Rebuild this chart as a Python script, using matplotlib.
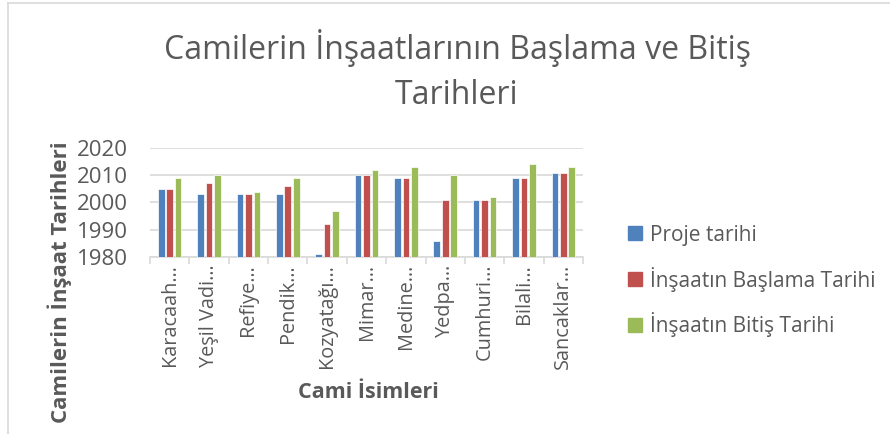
import numpy as np
import matplotlib
matplotlib.use("Agg")
import matplotlib.pyplot as plt
from matplotlib.lines import Line2D

plt.rcParams['font.family'] = ['Open Sans', 'DejaVu Sans']

# cami isimleri (kisaltilmis) ve tarihler
camiler = ["Karacaah…", "Yeşil Vadi…", "Refiye…", "Pendik…", "Kozyatağı…",
           "Mimar…", "Medine…", "Yedpa…", "Cumhuri…", "Bilali…", "Sancaklar…"]
proje_tarihi = [2005, 2003, 2003, 2003, 1981, 2010, 2009, 1986, 2001, 2009, 2011]
baslama_tarihi = [2005, 2007, 2003, 2006, 1992, 2010, 2009, 2001, 2001, 2009, 2011]
bitis_tarihi = [2009, 2010, 2004, 2009, 1997, 2012, 2013, 2010, 2002, 2014, 2013]
seri_adlari = ["Proje tarihi", "İnşaatın Başlama Tarihi", "İnşaatın Bitiş Tarihi"]
renkler = ["#4F81BD", "#C0504D", "#9BBB59"]

W, H = 890, 434
fig = plt.figure(figsize=(W / 100, H / 100), dpi=100)
ax = fig.add_axes([150 / W, 1 - 257 / H, 433 / W, 109 / H])

x = np.arange(len(camiler))
bw = 0.17
step = 0.215
for i, (vals, col) in enumerate(zip([proje_tarihi, baslama_tarihi, bitis_tarihi], renkler)):
    ax.bar(x + (i - 1) * step, np.array(vals) - 1980, bottom=1980, width=bw,
           color=col, edgecolor="white", linewidth=0.5, zorder=3)

ax.set_ylim(1980, 2020)
ax.set_xlim(-0.5, len(camiler) - 0.5)
ax.set_yticks([1980, 1990, 2000, 2010, 2020])
ax.grid(axis="y", color="#D9D9D9", linewidth=1.2, zorder=0)
for s in ["top", "right", "left"]:
    ax.spines[s].set_visible(False)
ax.spines["bottom"].set_color("#D9D9D9")
ax.spines["bottom"].set_linewidth(1.2)

ax.set_xticks(x)
ax.set_xticklabels(camiler, rotation=90, fontsize=14.3, color="#595959")
ax.tick_params(axis="x", length=0, pad=5)
ax.set_xticks(np.arange(-0.5, len(camiler)), minor=True)
ax.tick_params(axis="x", which="minor", length=5, color="#D9D9D9", width=1.2)
ax.tick_params(axis="y", length=0, labelsize=16, labelcolor="#595959", pad=16)

fig.text(457 / W, 1 - 48 / H, "Camilerin İnşaatlarının Başlama ve Bitiş",
         ha="center", va="center", fontsize=23, color="#595959")
fig.text(457 / W, 1 - 96 / H, "Tarihleri",
         ha="center", va="center", fontsize=23, color="#595959")

fig.text(60 / W, 1 - 282 / H, "Camilerin İnşaat Tarihleri", rotation=90,
         ha="center", va="center", fontsize=16, fontweight="bold", color="#595959")
fig.text(368 / W, 1 - 393 / H, "Cami İsimleri",
         ha="center", va="center", fontsize=15.5, fontweight="bold", color="#595959")

handles = [Line2D([], [], marker="s", linestyle="none", markersize=9.5,
                  markerfacecolor=c, markeredgecolor=c) for c in renkler]
fig.legend(handles, seri_adlari, loc="center left",
           bbox_to_anchor=(608 / W, 1 - 281 / H), frameon=False,
           fontsize=15, labelcolor="#595959", handlelength=0.8,
           handletextpad=0.3, labelspacing=1.0)

# dis cerceve
fig.add_artist(Line2D([8 / W, 8 / W], [0, 1 - 3 / H], transform=fig.transFigure,
                      color="#D9D9D9", linewidth=1.2))
fig.add_artist(Line2D([8 / W, 1], [1 - 3 / H, 1 - 3 / H], transform=fig.transFigure,
                      color="#D9D9D9", linewidth=1.2))

fig.savefig("out.png", dpi=100)
